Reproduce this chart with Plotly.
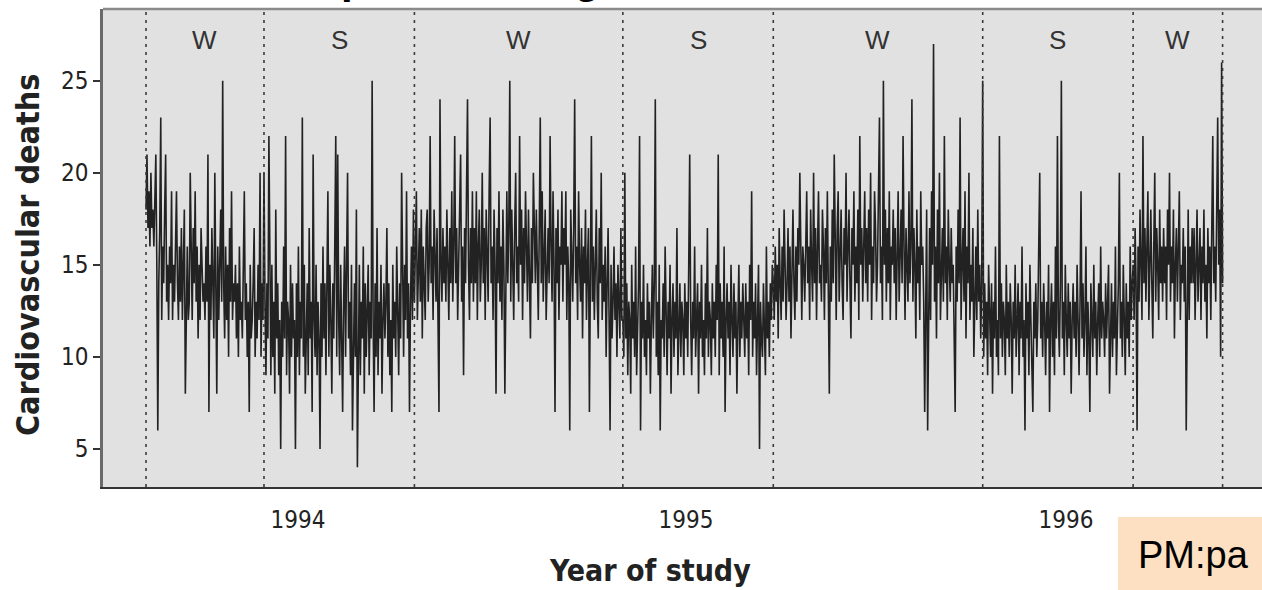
import pandas as pd
import plotly.graph_objects as go

# ---------------- data (daily cardiovascular deaths, read/estimated from the chart) -------------
start_date = "1994-01-01"

deaths_1994 = [
    18, 21, 17, 19, 16, 20, 17, 18, 16, 19, 21, 15, 6, 14, 17, 23, 12, 16, 14, 18, 21, 13, 15, 12, 16, 14, 19, 12, 15, 13, 17,
    19, 14, 12, 16, 13, 17, 12, 15, 18, 8, 14, 16, 12, 13, 20, 15, 12, 17, 14, 19, 13, 16, 11, 15, 12, 17, 14, 13,
    14, 12, 16, 13, 21, 7, 15, 12, 17, 14, 11, 20, 13, 8, 16, 12, 15, 18, 13, 25, 14, 11, 16, 12, 15, 10, 17, 13, 19, 12, 14,
    13, 15, 11, 14, 10, 16, 12, 13, 11, 15, 19, 12, 14, 10, 13, 7, 15, 11, 12, 14, 17, 10, 13, 11, 15, 12, 20, 10, 14, 12,
    20, 13, 9, 14, 11, 22, 12, 9, 15, 10, 13, 8, 18, 11, 14, 9, 12, 5, 13, 10, 16, 11, 22, 9, 13, 12, 8, 15, 10, 14, 11,
    12, 5, 14, 10, 16, 9, 13, 11, 23, 10, 15, 8, 12, 14, 9, 17, 11, 13, 7, 21, 12, 10, 15, 9, 13, 11, 5, 14, 10, 16,
    11, 14, 9, 13, 19, 10, 15, 12, 8, 14, 11, 16, 22, 10, 21, 12, 9, 15, 11, 7, 13, 16, 10, 14, 20, 11, 13, 9, 15, 6, 12,
    14, 10, 18, 4, 12, 15, 9, 13, 11, 16, 8, 14, 10, 12, 15, 9, 13, 11, 25, 12, 7, 14, 10, 17, 9, 13, 11, 15, 8, 12, 14,
    11, 13, 17, 10, 14, 9, 12, 7, 15, 11, 13, 10, 16, 12, 9, 14, 11, 20, 13, 10, 15, 12, 19, 11, 14, 7, 13, 16, 12, 18,
    13, 16, 19, 12, 15, 17, 13, 18, 11, 16, 14, 12, 17, 18, 13, 15, 22, 14, 16, 12, 18, 15, 13, 17, 11, 7, 24, 15, 13, 17, 14,
    16, 13, 18, 15, 12, 17, 14, 19, 13, 16, 22, 14, 17, 12, 15, 18, 21, 13, 16, 9, 17, 14, 18, 24, 15, 12, 17, 14, 19, 13,
    17, 14, 19, 12, 16, 18, 13, 15, 20, 14, 17, 12, 18, 15, 13, 19, 23, 14, 16, 12, 18, 15, 8, 17, 14, 19, 13, 16, 12, 18, 15,
]

deaths_1995 = [
    8, 16, 19, 14, 17, 25, 13, 18, 15, 12, 17, 20, 14, 16, 13, 22, 15, 18, 12, 17, 14, 19, 16, 13, 18, 15, 11, 17, 14, 20, 16,
    14, 18, 15, 12, 17, 23, 14, 19, 13, 16, 18, 12, 15, 17, 14, 22, 16, 13, 19, 15, 7, 17, 14, 18, 12, 16, 15, 19,
    13, 17, 15, 19, 12, 16, 14, 6, 18, 15, 13, 17, 24, 14, 16, 12, 19, 15, 13, 17, 11, 16, 14, 18, 12, 15, 17, 7, 14, 22, 13,
    16, 12, 15, 18, 13, 11, 17, 14, 20, 12, 15, 13, 16, 10, 14, 17, 12, 6, 15, 11, 13, 16, 12, 14, 10, 15, 13, 11, 17, 12,
    12, 10, 20, 11, 14, 9, 13, 12, 8, 15, 11, 13, 10, 16, 9, 12, 14, 22, 6, 13, 11, 15, 10, 12, 9, 14, 11, 13, 8, 12, 15,
    11, 14, 24, 10, 13, 9, 15, 6, 12, 11, 14, 10, 16, 12, 9, 13, 11, 15, 8, 12, 14, 10, 13, 11, 17, 9, 12, 14, 10, 13,
    12, 9, 14, 11, 13, 10, 15, 21, 12, 9, 13, 11, 16, 10, 12, 14, 8, 13, 11, 15, 10, 12, 9, 14, 11, 17, 10, 13, 12, 9, 14,
    11, 13, 10, 15, 12, 21, 9, 14, 11, 13, 10, 16, 7, 12, 14, 11, 13, 9, 15, 12, 10, 14, 11, 13, 8, 12, 15, 10, 13, 11, 14,
    12, 10, 14, 11, 13, 9, 15, 12, 19, 10, 13, 11, 14, 9, 12, 15, 5, 13, 11, 10, 14, 12, 9, 16, 11, 13, 10, 14, 12, 15,
    14, 12, 16, 13, 15, 11, 17, 14, 12, 16, 13, 18, 15, 12, 14, 17, 13, 16, 11, 15, 18, 14, 12, 16, 13, 17, 15, 20, 14, 12, 16,
    15, 13, 17, 19, 14, 16, 12, 18, 15, 13, 20, 14, 17, 12, 16, 19, 14, 15, 13, 18, 16, 12, 17, 14, 19, 15, 8, 16, 13, 18,
    14, 21, 15, 12, 17, 19, 13, 16, 18, 14, 12, 17, 15, 20, 13, 16, 18, 14, 11, 17, 15, 19, 13, 16, 14, 18, 12, 22, 15, 17, 13,
]

deaths_1996 = [
    16, 19, 14, 17, 13, 18, 15, 20, 12, 16, 14, 19, 17, 13, 15, 18, 23, 14, 16, 12, 25, 15, 18, 13, 17, 14, 19, 12, 16, 15, 18,
    14, 17, 12, 16, 19, 13, 15, 18, 14, 22, 16, 12, 17, 15, 13, 19, 14, 16, 24, 13, 17, 15, 11, 18, 14, 16, 12, 19, 15,
    16, 13, 7, 15, 18, 6, 14, 17, 12, 19, 15, 27, 13, 16, 11, 18, 14, 20, 12, 15, 17, 13, 22, 14, 16, 12, 18, 15, 13, 17, 14,
    15, 12, 7, 16, 13, 18, 14, 23, 12, 15, 17, 13, 19, 11, 16, 14, 20, 12, 15, 13, 17, 10, 14, 16, 12, 18, 13, 15, 11, 14,
    25, 10, 14, 11, 13, 9, 15, 12, 10, 14, 8, 13, 11, 16, 10, 12, 9, 22, 11, 14, 10, 13, 12, 9, 15, 11, 13, 10, 14, 12, 8,
    13, 11, 15, 10, 12, 14, 9, 13, 11, 16, 10, 12, 6, 14, 11, 13, 9, 15, 12, 10, 7, 13, 11, 14, 10, 12, 15, 20, 11, 13,
    10, 14, 12, 9, 13, 11, 15, 7, 12, 14, 10, 13, 9, 16, 11, 22, 12, 10, 14, 25, 11, 13, 9, 15, 12, 10, 14, 11, 13, 8, 12,
    14, 11, 13, 10, 15, 12, 9, 13, 19, 11, 14, 10, 12, 16, 9, 13, 11, 7, 14, 12, 10, 15, 11, 13, 9, 12, 14, 10, 16, 11, 13,
    12, 10, 14, 11, 13, 15, 8, 12, 14, 10, 13, 11, 16, 9, 12, 14, 20, 11, 13, 10, 15, 12, 9, 14, 11, 13, 10, 16, 12, 14,
    15, 12, 17, 14, 6, 16, 13, 18, 15, 12, 22, 14, 17, 13, 16, 19, 12, 15, 18, 14, 11, 16, 20, 13, 17, 15, 12, 18, 14, 16, 13,
    17, 14, 16, 12, 18, 15, 20, 13, 16, 14, 18, 11, 15, 17, 13, 16, 19, 12, 15, 14, 17, 13, 16, 6, 15, 18, 12, 16, 14, 17,
    14, 17, 12, 16, 18, 13, 15, 17, 12, 16, 14, 18, 13, 15, 11, 17, 14, 16, 12, 18, 22, 14, 16, 13, 17, 23, 15, 18, 10, 26, 14,
]

season_bounds = ["1994-01-01", "1994-05-01", "1994-10-01", "1995-05-01",
                 "1995-10-01", "1996-05-01", "1996-10-01", "1996-12-31"]
season_labels = ["W", "S", "W", "S", "W", "S", "W"]
year_labels = ["1994", "1995", "1996"]
y_tick_values = [5, 10, 15, 20, 25]

x_title = "Year of study"
y_title = "Cardiovascular deaths"
page_title = "Time series plot showing seasons"
corner_note = "PM:pa"

# ---------------- geometry ----------------
W, H = 1262, 590
L, T, B, R = 103, 9, 103, 0
PW, PH = W - L - R, H - T - B
PX_DAY = 0.9832      # pixels per day on the x axis
X_FIRST = 146        # pixel position of the first day

t0 = pd.Timestamp(start_date)


def px_to_date(px):
    return t0 + pd.Timedelta(days=(px - X_FIRST) / PX_DAY)


def fx(px):
    return (px - L) / PW


def fy(py):
    return (H - B - py) / PH


deaths = deaths_1994 + deaths_1995 + deaths_1996
dates = pd.date_range(start_date, periods=len(deaths), freq="D")

NARROW = "Liberation Sans Narrow, Arial Narrow, DejaVu Sans Condensed, sans-serif"
SANS = "Liberation Sans, Arial, sans-serif"

fig = go.Figure()
fig.add_trace(go.Scatter(
    x=dates, y=deaths, mode="lines",
    line=dict(color="rgba(0,0,0,0.85)", width=1.6),
    hoverinfo="skip", showlegend=False,
))

shapes = []
for b in season_bounds:
    shapes.append(dict(type="line", xref="x", yref="paper", x0=b, x1=b, y0=0, y1=1,
                       line=dict(color="#3a3a3a", width=1.6, dash="3px,5px"), layer="above"))
# top border of the panel
shapes.append(dict(type="line", xref="paper", yref="paper", x0=0, x1=1.01, y0=1, y1=1,
                   line=dict(color="#8a8a8a", width=2.5)))
# peach note box at the bottom right
shapes.append(dict(type="rect", xref="paper", yref="paper",
                   x0=fx(1118), x1=fx(1275), y0=fy(600), y1=fy(517),
                   fillcolor="#fddfc2", line=dict(width=0), layer="above"))

annotations = []
for i, lab in enumerate(season_labels):
    a = pd.Timestamp(season_bounds[i])
    b = pd.Timestamp(season_bounds[i + 1])
    mid = a + (b - a) / 2
    annotations.append(dict(x=mid, xref="x", y=fy(40), yref="paper", text=lab,
                            xanchor="center", yanchor="middle",
                            showarrow=False, font=dict(family=SANS, size=26, color="#333333")))

annotations.append(dict(x=fx(650), y=fy(570), xref="paper", yref="paper", text="<b>%s</b>" % x_title,
                        xanchor="center", yanchor="middle",
                        showarrow=False, font=dict(family=NARROW, size=30, color="#222222")))
annotations.append(dict(x=fx(28), y=fy(255), xref="paper", yref="paper", text="<b>%s</b>" % y_title,
                        xanchor="center", yanchor="middle",
                        textangle=-90, showarrow=False, font=dict(family=NARROW, size=32, color="#222222")))
annotations.append(dict(x=fx(1136), y=fy(555), xref="paper", yref="paper", text=corner_note,
                        xanchor="left", yanchor="middle",
                        showarrow=False, font=dict(family=SANS, size=38, color="#000000")))
annotations.append(dict(x=fx(97), y=fy(-22), xref="paper", yref="paper", text="<b>%s</b>" % page_title,
                        xanchor="left", yanchor="middle",
                        showarrow=False, font=dict(family=SANS, size=42, color="#000000")))

fig.update_layout(
    width=W, height=H,
    margin=dict(l=L, r=R, t=T, b=B, pad=0),
    paper_bgcolor="white", plot_bgcolor="#e1e1e1",
    shapes=shapes, annotations=annotations,
    showlegend=False,
)
fig.update_xaxes(
    type="date",
    range=[px_to_date(L), px_to_date(W)],
    tickvals=[px_to_date(298), px_to_date(686), px_to_date(1066)],
    ticktext=year_labels,
    ticks="", showgrid=False, zeroline=False,
    showline=True, linecolor="#333333", linewidth=2,
    ticklabelstandoff=10,
    tickfont=dict(family=NARROW, size=24, color="#222222"),
)
fig.update_yaxes(
    range=[2.93, 28.9],
    tickvals=y_tick_values,
    ticks="outside", ticklen=7, tickwidth=1.5, tickcolor="#333333",
    showgrid=False, zeroline=False,
    showline=True, linecolor="#6a6a6a", linewidth=2.5,
    tickfont=dict(family=NARROW, size=24, color="#222222"),
)

fig.write_html("out.html")
